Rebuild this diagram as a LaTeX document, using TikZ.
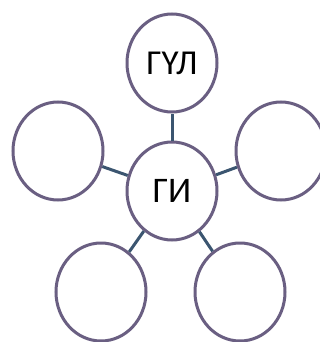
\documentclass[tikz,border=0pt]{standalone}
\usepackage{fontspec}
\setmainfont{Carlito}
\usetikzlibrary{shapes.geometric}
\definecolor{ringcol}{HTML}{6A5F82}
\definecolor{linkcol}{HTML}{3B5570}
\tikzset{
  bubble/.style={ellipse, draw=ringcol, line width=3pt, fill=white,
    minimum width=90pt, minimum height=98pt, inner sep=0pt},
  link/.style={draw=linkcol, line width=3pt}
}
\begin{document}
\begin{tikzpicture}[x=1pt,y=-1pt]
\useasboundingbox[fill=white] (0,0) rectangle (320,342);
\node[bubble, font=\fontsize{36}{36}\selectfont] (c) at (172,191) {ГИ};
\node[bubble, font=\fontsize{35}{35}\selectfont] (t) at (172,63) {ГҮЛ};
\node[bubble] (l) at (58,151) {};
\node[bubble] (r) at (281,151) {};
\node[bubble] (bl) at (101,292) {};
\node[bubble] (br) at (240,292) {};
\draw[link] (c) -- (t);
\draw[link] (c) -- (l);
\draw[link] (c) -- (r);
\draw[link] (c) -- (bl);
\draw[link] (c) -- (br);
\end{tikzpicture}
\end{document}
